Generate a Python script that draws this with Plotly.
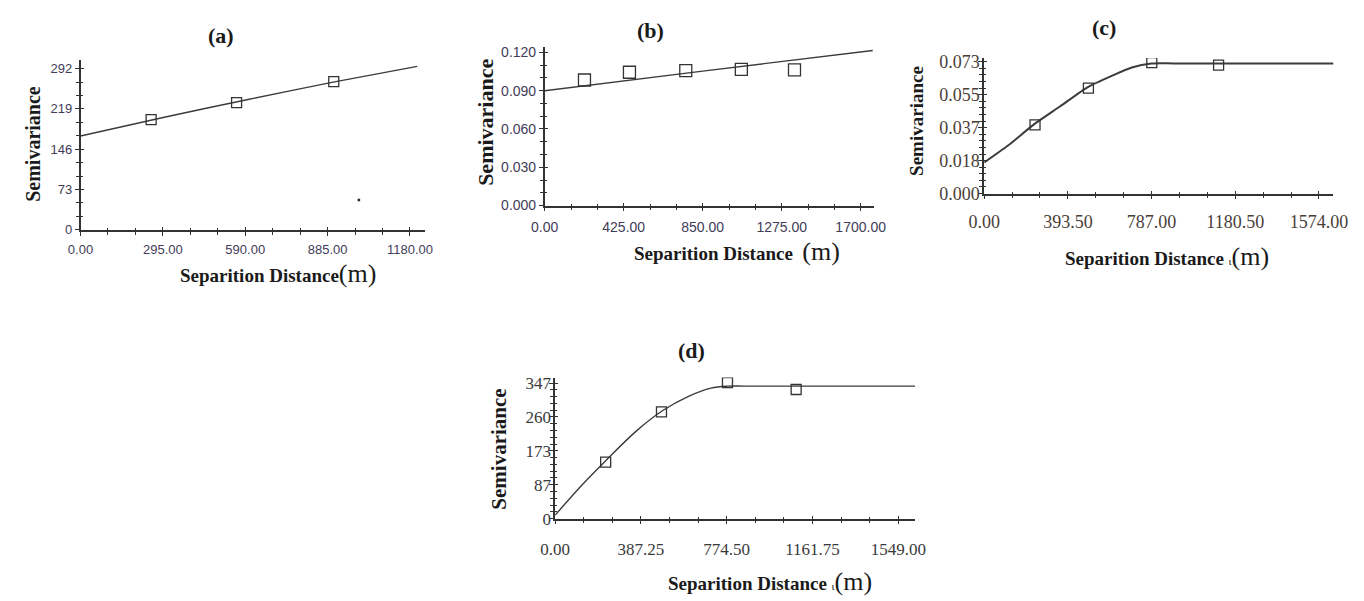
import plotly.graph_objects as go

W, H = 1364, 601

# ---------------- data ----------------
# (a)
a_pts_x = [253, 559, 907]
a_pts_y = [199.7, 230.3, 268.4]
a_line_x = [0, 300, 600, 900, 1206]
a_line_y = [170, 204, 236, 267, 296]
a_speck_x = [997]
a_speck_y = [54]
a_xticks = [0, 295, 590, 885, 1180]
a_yticks = [0, 73, 146, 219, 292]

# (b)
b_pts_x = [214, 456, 759, 1058, 1344]
b_pts_y = [0.0984, 0.1045, 0.1058, 0.1068, 0.1063]
b_line_x = [0, 850, 1765]
b_line_y = [0.0900, 0.1054, 0.1215]
b_xticks = [0, 425, 850, 1275, 1700]
b_yticks = [0.000, 0.030, 0.060, 0.090, 0.120]

# (c)
c_pts_x = [239, 490, 788, 1102]
c_pts_y = [0.0381, 0.0584, 0.0725, 0.0712]
c_line_x = [0, 112, 234, 356, 487, 602, 694, 786, 893, 1643]
c_line_y = [0.0172, 0.0266, 0.0383, 0.0482, 0.0590, 0.0653, 0.0698, 0.0720, 0.0721, 0.0721]
c_xticks = [0, 393.5, 787, 1180.5, 1574]
c_yticks = [0, 0.01825, 0.0365, 0.05475, 0.073]
c_yticktext = ["0.000", "0.018", "0.037", "0.055", "0.073"]

# (d)
d_pts_x = [228, 480, 778, 1088]
d_pts_y = [144.5, 273, 348, 330.4]
d_line_x = [0, 116, 226, 366, 484, 602, 704, 778, 860, 1625]
d_line_y = [9, 83, 147, 224, 276, 313, 334, 339, 339, 339]
d_xticks = [0, 387.25, 774.5, 1161.75, 1549]
d_yticks = [0, 86.75, 173.5, 260.25, 347]
d_yticktext = ["0", "87", "173", "260", "347"]

# ---------------- layout helpers ----------------
def fx(px):
    return px / W

def fy(py):
    return 1 - py / H

AX = "#333333"
LINE = "#3c3c3c"

panels = [
    dict(l=66, r=418, b=230, t=55, xr=[0, 1232], yr=[0, 308.4],
         xt=a_xticks, xtt=[f"{v:.2f}" for v in a_xticks],
         yt=a_yticks, ytt=[str(v) for v in a_yticks], ydiv=3,
         font=dict(family="Liberation Sans Narrow, Liberation Sans, Arial", size=13, color="#423c58"),
         xstand=3, ystand=0),
    dict(l=541, r=878, b=205, t=41.7, xr=[0, 1772], yr=[0, 0.1246],
         xt=b_xticks, xtt=[f"{v:.2f}" for v in b_xticks],
         yt=b_yticks, ytt=[f"{v:.3f}" for v in b_yticks], ydiv=3,
         font=dict(family="Liberation Sans Narrow, Liberation Sans, Arial", size=14, color="#423c58"),
         xstand=4, ystand=0),
    dict(l=990.7, r=1348, b=192.7, t=53.3, xr=[0, 1641.6], yr=[0, 0.07516],
         xt=c_xticks, xtt=[f"{v:.2f}" for v in c_xticks],
         yt=c_yticks, ytt=c_yticktext, ydiv=5,
         font=dict(family="Liberation Serif, Times New Roman", size=18, color="#4a4038"),
         xstand=7, ystand=-5),
    dict(l=551.7, r=920, b=526.7, t=381.7, xr=[0, 1625], yr=[0, 361],
         xt=d_xticks, xtt=[f"{v:.2f}" for v in d_xticks],
         yt=d_yticks, ytt=d_yticktext, ydiv=5,
         font=dict(family="Liberation Serif, Times New Roman", size=17, color="#3a3a3a"),
         xstand=10, ystand=-5),
]

series = [
    (a_line_x, a_line_y, a_pts_x, a_pts_y, 10),
    (b_line_x, b_line_y, b_pts_x, b_pts_y, 12),
    (c_line_x, c_line_y, c_pts_x, c_pts_y, 10),
    (d_line_x, d_line_y, d_pts_x, d_pts_y, 10),
]

fig = go.Figure()
layout = {}

for i, (p, s) in enumerate(zip(panels, series), start=1):
    lx, ly, px_, py_, msz = s
    xa, ya = f"x{i}", f"y{i}"
    fig.add_trace(go.Scatter(x=lx, y=ly, mode="lines", xaxis=xa, yaxis=ya,
                             line=dict(color=LINE, width=2 if i == 3 else 1.4, shape="spline",
                                       smoothing=1.0 if i == 4 else 0.6),
                             showlegend=False, hoverinfo="skip"))
    fig.add_trace(go.Scatter(x=px_, y=py_, mode="markers", xaxis=xa, yaxis=ya,
                             marker=dict(symbol="square-open", size=msz, color="#333333",
                                         line=dict(width=1.3, color="#333333")),
                             showlegend=False))
    fig.add_trace(go.Scatter(x=[None], y=[None], xaxis=f"x{i+4}", yaxis=f"y{i+4}",
                             showlegend=False, hoverinfo="skip"))

    xdom = [fx(p["l"]), fx(p["r"])]
    ydom = [fy(p["b"]), fy(p["t"])]
    xstep = p["xt"][1] - p["xt"][0]
    ystep = p["yt"][1] - p["yt"][0]
    common = dict(showgrid=False, zeroline=False, fixedrange=True)
    layout[f"xaxis{i}"] = dict(domain=xdom, range=p["xr"], anchor=ya, **common,
                               showline=True, linecolor=AX, linewidth=1.5,
                               tickmode="array", tickvals=p["xt"], ticktext=p["xtt"],
                               ticks="outside", ticklen=4, tickwidth=1.3, tickcolor=AX,
                               tickfont=p["font"], ticklabelstandoff=p["xstand"],
                               minor=dict(ticks="outside", ticklen=3, tickwidth=1.2, tickcolor=AX,
                                          tick0=0, dtick=xstep / 3))
    layout[f"yaxis{i}"] = dict(domain=ydom, range=p["yr"], anchor=xa, **common,
                               showline=True, linecolor=AX, linewidth=1.5,
                               tickmode="array", tickvals=p["yt"], ticktext=p["ytt"],
                               ticks="outside", ticklen=4, tickwidth=1.3, tickcolor=AX,
                               tickfont=p["font"], ticklabelstandoff=p["ystand"],
                               minor=dict(ticks="outside", ticklen=3, tickwidth=1.2, tickcolor=AX,
                                          tick0=0, dtick=ystep / p["ydiv"]))
    layout[f"xaxis{i+4}"] = dict(domain=xdom, range=p["xr"], anchor=ya, overlaying=xa, **common,
                                 showline=False, showticklabels=False,
                                 tickmode="array", tickvals=p["xt"],
                                 ticks="inside", ticklen=3, tickwidth=1.3, tickcolor=AX,
                                 minor=dict(ticks="inside", ticklen=2, tickwidth=1.2, tickcolor=AX,
                                            tick0=0, dtick=xstep / 3))
    layout[f"yaxis{i+4}"] = dict(domain=ydom, range=p["yr"], anchor=xa, overlaying=ya, **common,
                                 showline=False, showticklabels=False,
                                 tickmode="array", tickvals=p["yt"],
                                 ticks="inside", ticklen=3, tickwidth=1.3, tickcolor=AX,
                                 minor=dict(ticks="inside", ticklen=2, tickwidth=1.2, tickcolor=AX,
                                            tick0=0, dtick=ystep / p["ydiv"]))

# stray speck in panel (a)
fig.add_trace(go.Scatter(x=a_speck_x, y=a_speck_y, mode="markers", xaxis="x1", yaxis="y1",
                         marker=dict(symbol="square", size=2.5, color="#222222"),
                         showlegend=False, hoverinfo="skip"))

SERIF = "Liberation Serif, Times New Roman"
TXT = "#1a1a1a"
ann = []

def add(text, px, py, size, angle=0):
    ann.append(dict(text=text, x=fx(px), y=fy(py), xref="paper", yref="paper",
                    showarrow=False, textangle=angle, xanchor="center", yanchor="middle",
                    font=dict(family=SERIF, size=size, color=TXT)))

# panel labels
add("<b>(a)</b>", 210, 30, 22)
add("<b>(b)</b>", 649, 25, 22)
add("<b>(c)</b>", 1113, 22, 22)
add("<b>(d)</b>", 691, 354, 22)

# x-axis titles
add("<b>Separition Distance</b><span style='font-size:26px'>(m)</span>", 268, 275, 19)
add("<b>Separition Distance</b> &nbsp;<span style='font-size:26px'>(m)</span>", 738, 252, 19)
add("<b>Separition Distance</b> <span style='font-size:11px'>ι</span><span style='font-size:26px'>(m)</span>", 1178, 257, 19)
add("<b>Separition Distance</b> <span style='font-size:11px'>ι</span><span style='font-size:26px'>(m)</span>", 772, 591, 19)

# y-axis titles
add("<b>Semivariance</b>", 18, 142, 20, -90)
add("<b>Semivariance</b>", 481, 120, 22, -90)
add("<b>Semivariance</b>", 922, 118, 19, -90)
add("<b>Semivariance</b>", 494, 455, 21, -90)

fig.update_layout(width=W, height=H, margin=dict(l=0, r=0, t=0, b=0),
                  paper_bgcolor="white", plot_bgcolor="white",
                  annotations=ann, **layout)

fig.write_html("out.html", config={"displayModeBar": False})
